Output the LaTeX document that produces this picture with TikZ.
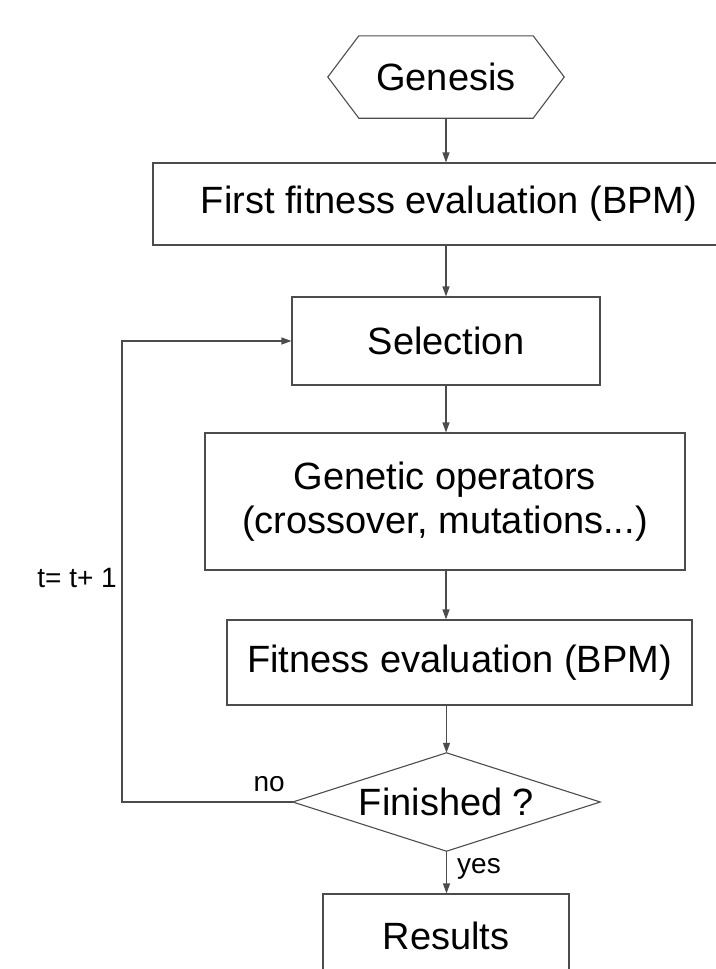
\documentclass[tikz,border=0pt]{standalone}
\usepackage{fontspec}
\setmainfont{Liberation Sans}
\usetikzlibrary{arrows.meta}
\begin{document}
\begin{tikzpicture}[x=1pt,y=-1pt,
	line/.style={draw=black!70,line width=1.1pt},
	arr/.style={line,-{Triangle[length=10pt,width=7pt]}},
	box/.style={line,rectangle,inner sep=0pt,font=\fontsize{38}{44}\selectfont},
	plain/.style={rectangle,inner sep=0pt,font=\fontsize{38}{44}\selectfont},
	small/.style={inner sep=0pt,font=\fontsize{28}{32}\selectfont}]
\useasboundingbox (0,0) rectangle (715,969);

% start node (hexagon)
\node[plain,minimum width=236pt,minimum height=82pt] (genesis) at (446,77) {Genesis};
\draw[line] (genesis.west) -- ([xshift=31pt]genesis.north west) -- ([xshift=-31pt]genesis.north east)
	-- (genesis.east) -- ([xshift=-31pt]genesis.south east) -- ([xshift=31pt]genesis.south west) -- cycle;

% boxes
\node[box,minimum width=592pt,minimum height=82pt] (first) at (449,204) {First fitness evaluation (BPM)};
\node[box,minimum width=308pt,minimum height=88pt] (selection) at (446,341) {Selection};
\node[box,minimum width=480pt,minimum height=137pt,align=center] (genetic) at (445,501.5)
	{Genetic operators\\(crossover, mutations...)};
\node[box,minimum width=465pt,minimum height=85pt] (fitness) at (459.5,662.5) {Fitness evaluation (BPM)};

% decision (diamond)
\node[plain,minimum width=307pt,minimum height=98pt] (finished) at (446.5,802) {Finished ?};
\draw[line] (finished.west) -- (finished.north) -- (finished.east) -- (finished.south) -- cycle;

% results
\node[box,minimum width=246pt,minimum height=110pt] (results) at (446,949) {};
\node[plain] (resultstext) at (446,936) {Results};

% main flow
\draw[arr] (genesis.south) -- (genesis.south |- first.north);
\draw[arr] (selection.north |- first.south) -- (selection.north);
\draw[arr] (selection.south) -- (selection.south |- genetic.north);
\draw[arr] (selection.south |- genetic.south) -- (selection.south |- fitness.north);
\draw[arr] (finished.north |- fitness.south) -- (finished.north);
\draw[arr] (finished.south) -- (finished.south |- results.north);

% loop back
\coordinate (loopx) at (122,0);
\draw[arr] (finished.west) -- (finished.west -| loopx) |- (selection.west);

% labels
\node[small,anchor=south east] (no) at (285,792) {no};
\node[small,anchor=west] (yes) at (457,869) {yes};
\node[small,anchor=east] (incr) at (117,578) {t= t+ 1};
\end{tikzpicture}
\end{document}
